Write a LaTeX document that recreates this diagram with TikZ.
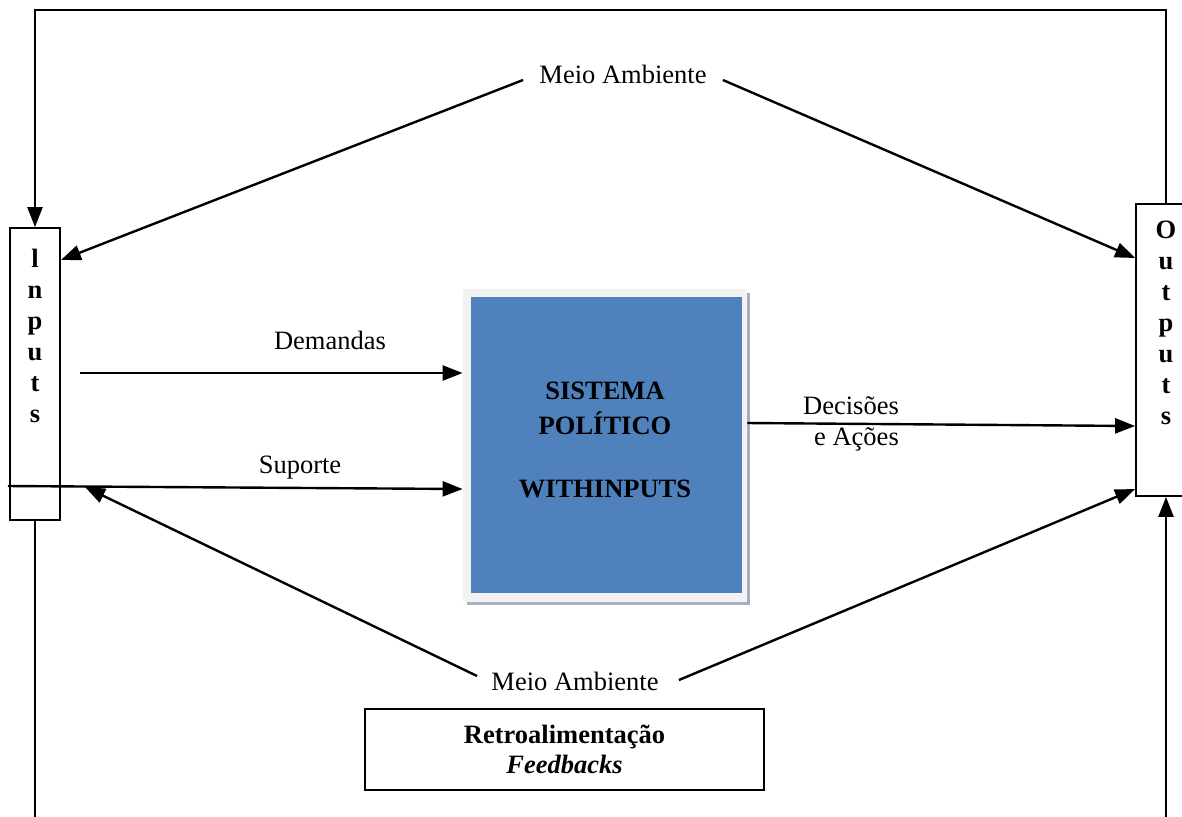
\documentclass[tikz,border=0pt]{standalone}
\usepackage{fontspec}
\setmainfont{Liberation Serif}
\usetikzlibrary{arrows.meta,calc}
\definecolor{sysblue}{HTML}{4F81BD}
\definecolor{framegray}{HTML}{F2F2F2}
\definecolor{shadowgray}{HTML}{A6AFBF}
\begin{document}
\begin{tikzpicture}[x=0.5pt,y=-0.5pt,
  line/.style={line width=1.2pt},
  arr/.style={line width=1.2pt,-{Triangle[length=10pt,width=7.5pt]}},
  lbl/.style={font=\fontsize{13.25}{15.5}\selectfont, inner sep=0pt},
  malbl/.style={font=\fontsize{13.25}{15.5}\selectfont, inner ysep=0pt, inner xsep=8pt},
  vbox/.style={draw,line width=0.9pt,inner sep=0pt},
  vtext/.style={font=\bfseries\fontsize{13.25}{15.5}\selectfont, align=center, inner sep=0pt}]
\useasboundingbox (0,0) rectangle (1182,816);
\clip (0,0) rectangle (1182,816);

% side boxes
\node[vbox,minimum width=25pt,minimum height=146pt] (inputs) at (35,374) {};
\node[vtext,anchor=north] (intxt) at (35,249) {l\\n\\p\\u\\t\\s};
\node[vbox,minimum width=30pt,minimum height=146pt] (outputs) at (1166,350) {};
\node[vtext,anchor=north] (outtxt) at (1166,221) {O\\u\\t\\p\\u\\t\\s};

% outer loop
\coordinate (topy) at (0,10);
\coordinate (boty) at (0,830);
\draw[arr] (outputs.north) -- (outputs.north |- topy) -- (inputs.north |- topy) -- (inputs.north);
\draw[line width=0.8pt] (inputs.south) -- (inputs.south |- boty);
\draw[arr] (outputs.south |- boty) -- (outputs.south);

% central system
\fill[shadowgray] (467,293) rectangle (750,605);
\node[fill=framegray,minimum width=142pt,minimum height=156.5pt,inner sep=0pt] (frame) at (605,445.5) {};
\node[fill=sysblue,minimum width=135.5pt,minimum height=148pt,inner sep=0pt] (sys) at (606.5,445) {};
\node[vtext,font=\bfseries\fontsize{13.25}{17.5}\selectfont] (systxt) at (605,440) {SISTEMA\\POLÍTICO\\[14pt]WITHINPUTS};

% environment
\node[malbl] (ma1) at (623,74) {Meio Ambiente};
\draw[arr] ($(ma1.west)+(0,6)$) -- (inputs.east |- 0,260);
\draw[arr] ($(ma1.east)+(0,6)$) -- (outputs.west |- 0,258);

\node[malbl] (ma2) at (575,681) {Meio Ambiente};
\coordinate (in2) at (85,487);
\draw[arr] ($(ma2.west)+(2,-5)$) -- (in2);
\draw[arr] ($(ma2.east)+(4,-1)$) -- (outputs.west |- 0,489);

% inputs to system
\coordinate (dem0) at (80,373);
\draw[arr] (dem0) -- (frame.west |- 0,373);
\node[lbl] (demlbl) at (330,340) {Demandas};
\coordinate (sup0) at (8,486);
\draw[arr] (sup0) -- (frame.west |- 0,489);
\node[lbl] (suplbl) at (300,468) {Suporte};

% outputs
\draw[arr] (frame.east |- 0,423) -- (outputs.west |- 0,426);
\node[lbl,align=right] (declbl) at (851,424) {Decisões\\e Ações};

% feedback box
\node[draw,line width=0.9pt,minimum width=199.5pt,minimum height=40.5pt,align=center,
      font=\bfseries\fontsize{13.25}{15}\selectfont] (retro) at (564.5,749.5)
      {Retroalimentação\\{\itshape Feedbacks}};
\end{tikzpicture}
\end{document}
